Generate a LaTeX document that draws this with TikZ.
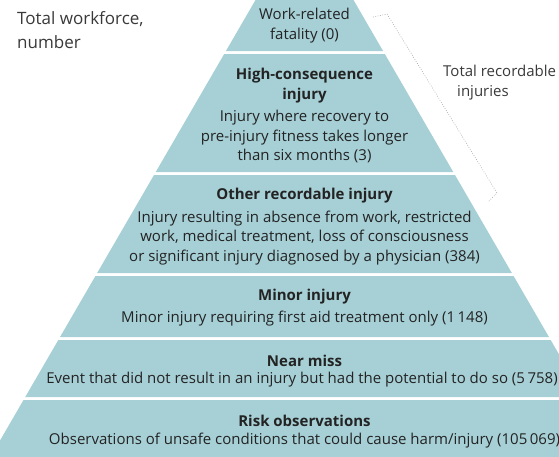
\documentclass[tikz,border=0pt]{standalone}
\usepackage{fontspec}
\setmainfont{Open Sans}
\usetikzlibrary{positioning}
\definecolor{bandfill}{RGB}{166,208,214}
\definecolor{ink}{RGB}{35,35,35}
\begin{document}
\begin{tikzpicture}[x=1pt, y=-1pt,
  head/.style={font=\fontsize{15}{19.5}\selectfont\bfseries, text=ink,
               align=center, inner sep=0pt},
  body/.style={font=\fontsize{15}{19.5}\selectfont, text=ink,
               align=center, inner sep=0pt},
  side/.style={font=\fontsize{17}{24}\selectfont, text=ink!90,
               align=left, inner sep=0pt},
  brace/.style={gray!70, line width=0.6pt, dash pattern=on 0.8pt off 1.6pt}
]
  \useasboundingbox (0,0) rectangle (559,456);

  % pyramid bands
  \foreach \yt/\yb in {-5/51, 54/172, 175/273, 276/337, 340/397, 400/470}
    \fill[bandfill] ({255.5-0.58*\yt},\yt) -- ({353.5+0.58*\yt},\yt)
      -- ({353.5+0.58*\yb},\yb) -- ({255.5-0.58*\yb},\yb) -- cycle;

  \node[body] (fatal) at (304.5,25.5) {Work-related\\fatality (0)};

  \node[head] (highhead) at (304.5,85.5) {High-consequence\\injury};
  \node[body] (highbody) at (304.5,136.5)
    {Injury where recovery to\\pre-injury fitness takes longer\\than six months (3)};

  \node[head] (otherhead) at (304.5,195.5) {Other recordable injury};
  \node[body] (otherbody) at (304.5,238)
    {Injury resulting in absence from work, restricted\\work, medical treatment, loss of consciousness\\or significant injury diagnosed by a physician (384)};

  \node[head] (minorhead) at (304.5,296.5) {Minor injury};
  \node[body] (minorbody) at (304.5,318.5)
    {Minor injury requiring first aid treatment only (1\,148)};

  \node[head] (nearhead) at (304.5,360.5) {Near miss};
  \node[body] (nearbody) at (302,379.5)
    {Event that did not result in an injury but had the potential to do so (5\,758)};

  \node[head] (riskhead) at (304.5,420.5) {Risk observations};
  \node[body] (riskbody) at (304.5,440.5)
    {Observations of unsafe conditions that could cause harm/injury (105\,069)};

  % side labels
  \node[side, anchor=north west] (workforce) at (17,11) {Total workforce,\\number};
  \node[side, anchor=north west, font=\fontsize{15}{20}\selectfont] (recordable) at (443,65)
    {Total recordable\\\hspace*{14pt}injuries};

  % bracket
  \coordinate (brtop) at (373,17);
  \coordinate (brtopend) at (387,14);
  \coordinate (brbotend) at (497,193);
  \coordinate (brbot) at (488,202);
  \draw[brace] (brtop) -- (brtopend) -- (brbotend) -- (brbot);
\end{tikzpicture}
\end{document}
